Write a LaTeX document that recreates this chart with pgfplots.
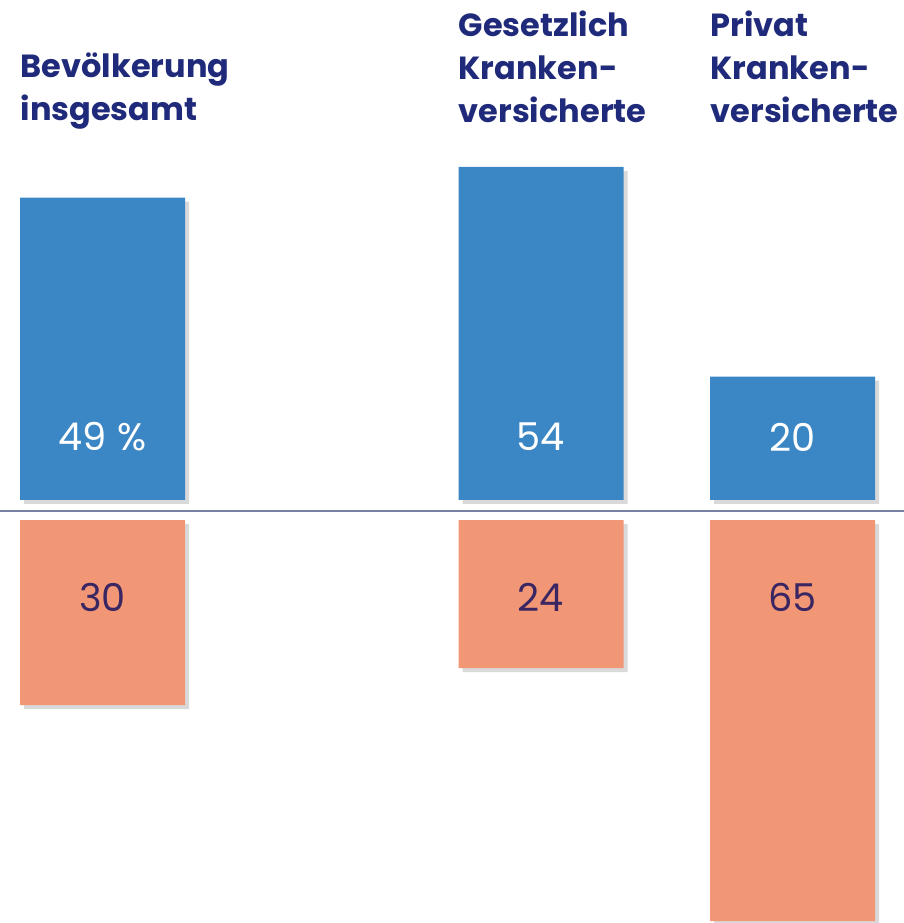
\documentclass[border=0pt]{standalone}
\usepackage{fontspec}
\setmainfont{Poppins}
\usepackage{pgfplots}
\pgfplotsset{compat=1.18}
\usetikzlibrary{shadows}

\definecolor{barblue}{RGB}{59,135,197}
\definecolor{barorange}{RGB}{242,151,118}
\definecolor{headnavy}{RGB}{32,42,122}
\definecolor{numpurple}{RGB}{58,38,98}
\definecolor{sepline}{RGB}{120,128,160}

% x = horizontal position of each group, val = share in %
\pgfplotstableread{
x     val
102.5 49
541   54
792.5 20
}\tabtop
\pgfplotstableread{
x     val
102.5 -30
541   -24
792.5 -65
}\tabbot

\pgfplotsset{panel/.style={
  scale only axis, width=271.2pt,
  xmin=0, xmax=904,
  axis lines=none, clip=false,
  ybar, bar width=165,
  anchor=south west
}}
\tikzset{barshadow/.style={drop shadow={shadow xshift=1.2pt, shadow yshift=-1.2pt, opacity=0.3}}}

\newcommand{\headfont}{\fontsize{9.6}{12.9}\selectfont\bfseries}
\newcommand{\numfont}{\fontsize{11.5}{13}\selectfont}

\begin{document}
\begin{tikzpicture}
\useasboundingbox (0,0) rectangle (271.2pt,276.9pt);

\begin{axis}[panel, at={(0,126.9pt)}, height=150pt, ymin=0, ymax=81.04]
\addplot[fill=barblue, draw=none, barshadow] table[x=x, y=val] {\tabtop};
\node[font=\numfont, text=white] at (axis cs:102.5,10.2) {49 \%};
\node[font=\numfont, text=white] at (axis cs:541,10.2) {54};
\node[font=\numfont, text=white] at (axis cs:792.5,10.2) {20};
\end{axis}

\begin{axis}[panel, at={(0,0)}, height=120.9pt, ymin=-65.32, ymax=0]
\addplot[fill=barorange, draw=none, barshadow] table[x=x, y=val] {\tabbot};
\node[font=\numfont, text=numpurple] at (axis cs:102.5,-12.5) {30};
\node[font=\numfont, text=numpurple] at (axis cs:541,-12.5) {24};
\node[font=\numfont, text=numpurple] at (axis cs:792.5,-12.5) {65};
\end{axis}

\draw[sepline, line width=0.4pt] (0,123.6pt) -- (271.2pt,123.6pt);

\node[anchor=north west, inner sep=0, align=left, font=\headfont, text=headnavy]
  at (6pt,261.3pt) {Bevölkerung\\insgesamt};
\node[anchor=north west, inner sep=0, align=left, font=\headfont, text=headnavy]
  at (137.4pt,273.9pt) {Gesetzlich\\Kranken-\\versicherte};
\node[anchor=north west, inner sep=0, align=left, font=\headfont, text=headnavy]
  at (213pt,273.9pt) {Privat\\Kranken-\\versicherte};
\end{tikzpicture}
\end{document}
